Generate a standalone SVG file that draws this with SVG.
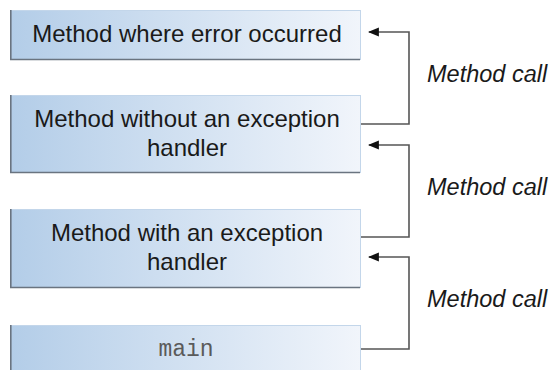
<svg xmlns="http://www.w3.org/2000/svg" width="553" height="370" viewBox="0 0 553 370">
<style>
.box{fill:url(#g);stroke:#c3d6ea;stroke-width:1}
.sh{fill:none;stroke:#6a7480;stroke-width:1.6}
.t{font-family:"Liberation Sans",Arial,sans-serif;font-size:24px;fill:#1a1a1a;text-anchor:middle}
.m{font-family:"Liberation Mono","Courier New",monospace;font-size:23px;fill:#5a5a5a;text-anchor:middle}
.lbl{font-family:"Liberation Sans",Arial,sans-serif;font-size:23.5px;font-style:italic;fill:#1a1a1a}
.c{fill:none;stroke:#555;stroke-width:1.6}
</style>
<defs>
<linearGradient id="g" x1="0" y1="0" x2="1" y2="0">
<stop offset="0" stop-color="#b3cde8"/>
<stop offset="1" stop-color="#f1f5fb"/>
</linearGradient>
<marker id="a" viewBox="0 0 10 10" refX="9" refY="5" markerWidth="11" markerHeight="11" markerUnits="userSpaceOnUse" orient="auto">
<path d="M0,1 L10,5 L0,9 Z" fill="#111"/>
</marker>
</defs>
<rect width="553" height="370" fill="#fff"/>
<g id="n1">
<rect class="box" x="10.5" y="10.5" width="350" height="49"/>
<path class="sh" d="M10.8,10 V59.5 H360"/>
<text class="t" x="187" y="42">Method where error occurred</text>
</g>
<g id="n2">
<rect class="box" x="10.5" y="95.5" width="350" height="77"/>
<path class="sh" d="M10.8,95 V172.5 H360"/>
<text class="t" x="187" y="127">Method without an exception</text>
<text class="t" x="187" y="156">handler</text>
</g>
<g id="n3">
<rect class="box" x="10.5" y="209.5" width="350" height="78"/>
<path class="sh" d="M10.8,209 V287.5 H360"/>
<text class="t" x="187" y="241">Method with an exception</text>
<text class="t" x="187" y="270">handler</text>
</g>
<g id="n4">
<rect class="box" x="10.5" y="325.5" width="350" height="60"/>
<path class="sh" d="M10.8,325 V371"/>
<text class="m" x="186" y="356">main</text>
</g>
<g id="connectors">
<path class="c" d="M361,124 H409 V32 H369" marker-end="url(#a)"/>
<path class="c" d="M361,237 H409 V145 H369" marker-end="url(#a)"/>
<path class="c" d="M361,349 H409 V257 H369" marker-end="url(#a)"/>
</g>
<text class="lbl" x="427" y="82">Method call</text>
<text class="lbl" x="427" y="195">Method call</text>
<text class="lbl" x="427" y="307">Method call</text>
</svg>
